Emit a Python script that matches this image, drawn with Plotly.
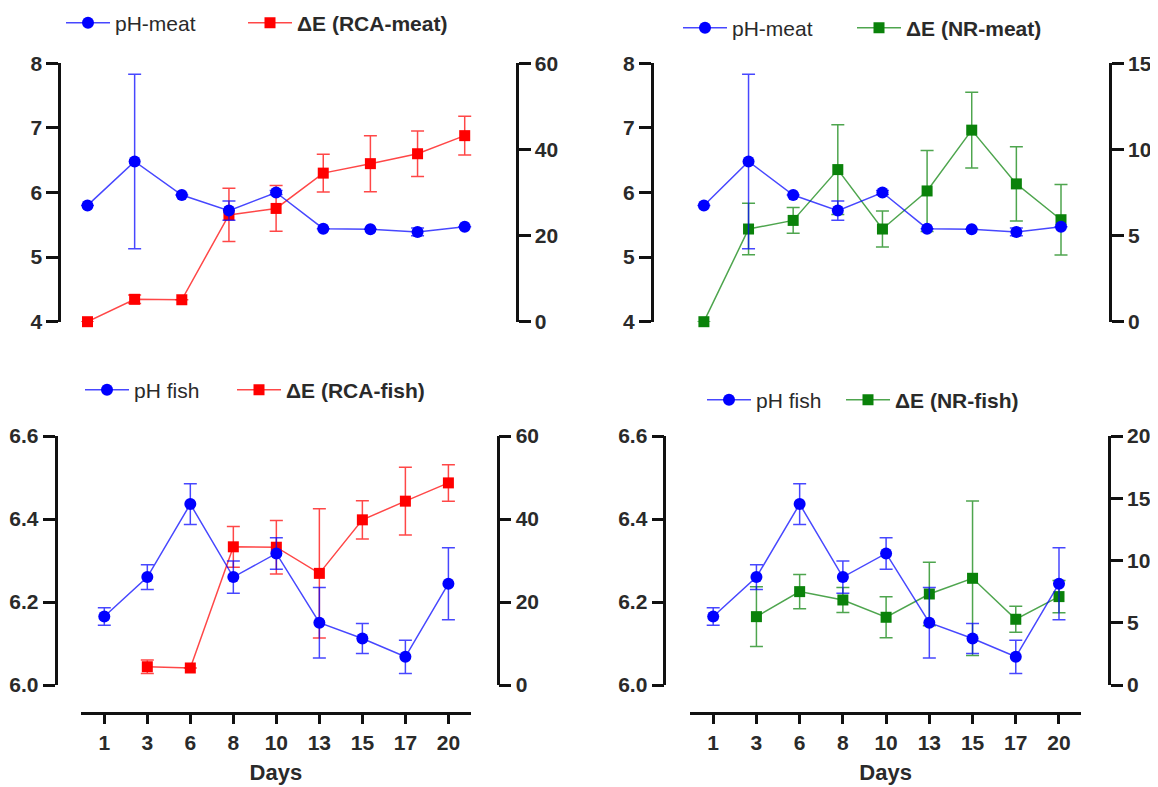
import plotly.graph_objects as go

days = ["1", "3", "6", "8", "10", "13", "15", "17", "20"]

ph_meat = [5.80, 6.48, 5.96, 5.72, 6.00, 5.44, 5.43, 5.39, 5.47]
ph_meat_err = [None, 1.35, None, 0.15, 0.03, None, None, 0.06, None]

de_rca_meat = [0.0, 5.2, 5.1, 24.8, 26.3, 34.5, 36.7, 39.0, 43.2]
de_rca_meat_err = [None, 1.0, None, 6.2, 5.3, 4.4, 6.5, 5.3, 4.5]

de_nr_meat = [0.0, 5.38, 5.88, 8.83, 5.38, 7.59, 11.12, 8.0, 5.92]
de_nr_meat_err = [None, 1.5, 0.75, 2.6, 1.05, 2.35, 2.2, 2.15, 2.05]

ph_fish = [6.165, 6.260, 6.436, 6.260, 6.317, 6.150, 6.112, 6.068, 6.244]
ph_fish_err = [0.021, 0.030, 0.049, 0.039, 0.038, 0.085, 0.036, 0.040, 0.087]

de_rca_fish = [None, 4.4, 4.1, 33.3, 33.2, 26.9, 39.8, 44.3, 48.7]
de_rca_fish_err = [None, 1.6, None, 4.9, 6.45, 15.6, 4.6, 8.15, 4.4]

de_nr_fish = [None, 5.49, 7.50, 6.83, 5.44, 7.31, 8.57, 5.28, 7.10]
de_nr_fish_err = [None, 2.4, 1.38, 1.0, 1.65, 2.55, 6.2, 1.05, 1.3]

W, H = 1158, 787
OFF = 8  # page body margin


def px(x):
    return (x - OFF) / W


def py(y):
    return 1 - (y - OFF) / H


BLUE, BLUE_L = "#0000ff", "rgba(0,0,255,0.72)"
RED, RED_L = "#ff0000", "rgba(255,0,0,0.72)"
GREEN, GREEN_L = "#0a820a", "rgba(10,130,10,0.72)"
FONT = "Liberation Sans, Arial, sans-serif"
TXT = "#2a2a2a"
AX = "#111111"

panels = [
    dict(ph=ph_meat, phe=ph_meat_err, phname="pH-meat", de=de_rca_meat, dee=de_rca_meat_err,
         dename="<b>\u0394E (RCA-meat)</b>", col=RED, coll=RED_L,
         yl=[4, 8], yldt=1, ylfmt="d", yr=[0, 60], yrdt=20,
         day1=87.5, day20=464.7, rng=[-0.5, 8.5], top=63.3, bot=321.7, axl=59.3, axr=516.7,
         showx=False, leg1=(81, 23), leg2=(263, 23)),
    dict(ph=ph_meat, phe=ph_meat_err, phname="pH-meat", de=de_nr_meat, dee=de_nr_meat_err,
         dename="<b>\u0394E (NR-meat)</b>", col=GREEN, coll=GREEN_L,
         yl=[4, 8], yldt=1, ylfmt="d", yr=[0, 15], yrdt=5,
         day1=703.9, day20=1061, rng=[-0.5, 8.5], top=63.3, bot=321.7, axl=651.7, axr=1110,
         showx=False, leg1=(698, 28), leg2=(872, 28)),
    dict(ph=ph_fish, phe=ph_fish_err, phname="pH fish", de=de_rca_fish, dee=de_rca_fish_err,
         dename="<b>\u0394E (RCA-fish)</b>", col=RED, coll=RED_L,
         yl=[6.0, 6.6], yldt=0.2, ylfmt=".1f", yr=[0, 60], yrdt=20,
         day1=104.3, day20=448.4, rng=[-0.54, 8.52], top=436, bot=685, axl=55.5, axr=497.6,
         showx=True, leg1=(100, 390), leg2=(252, 390)),
    dict(ph=ph_fish, phe=ph_fish_err, phname="pH fish", de=de_nr_fish, dee=de_nr_fish_err,
         dename="<b>\u0394E (NR-fish)</b>", col=GREEN, coll=GREEN_L,
         yl=[6.0, 6.6], yldt=0.2, ylfmt=".1f", yr=[0, 20], yrdt=5,
         day1=713.2, day20=1059, rng=[-0.54, 8.52], top=436, bot=685, axl=664.4, axr=1109,
         showx=True, leg1=(722, 400), leg2=(861, 400)),
]

fig = go.Figure()
layout = dict(
    width=W, height=H, margin=dict(l=0, r=0, t=0, b=0, autoexpand=False),
    paper_bgcolor="white", plot_bgcolor="white", showlegend=True,
    font=dict(family=FONT, color=TXT),
)

tickfont = dict(family=FONT, size=21, color=TXT, weight="bold")
XAXIS_Y = 712.5

for k, p in enumerate(panels):
    xid = "x" if k == 0 else f"x{k + 1}"
    xkey = "xaxis" if k == 0 else f"xaxis{k + 1}"
    nR, nL = 2 * k + 1, 2 * k + 2
    yRid = "y" if nR == 1 else f"y{nR}"
    yRkey = "yaxis" if nR == 1 else f"yaxis{nR}"
    yLid, yLkey = f"y{nL}", f"yaxis{nL}"
    legA = "legend" if k == 0 else f"legend{2 * k + 1}"
    legB = f"legend{2 * k + 2}"

    step = (p["day20"] - p["day1"]) / 8.0
    x0 = p["day1"] + p["rng"][0] * step
    x1 = p["day1"] + p["rng"][1] * step
    dom_x = [px(x0), px(x1)]
    dom_y = [py(p["bot"]), py(p["top"])]

    fig.add_trace(go.Scatter(
        x=days, y=p["de"], xaxis=xid, yaxis=yRid, name=p["dename"], legend=legB,
        mode="lines+markers", cliponaxis=False, connectgaps=False,
        line=dict(color=p["coll"], width=1.5),
        marker=dict(symbol="square", size=11, color=p["col"]),
        error_y=dict(type="data", array=p["dee"], visible=True, color=p["coll"], thickness=1.5, width=6.5),
    ))
    fig.add_trace(go.Scatter(
        x=days, y=p["ph"], xaxis=xid, yaxis=yLid, name=p["phname"], legend=legA,
        mode="lines+markers", cliponaxis=False,
        line=dict(color=BLUE_L, width=1.5),
        marker=dict(symbol="circle", size=12, color=BLUE),
        error_y=dict(type="data", array=p["phe"], visible=True, color=BLUE_L, thickness=1.5, width=6.5),
    ))

    xa = dict(domain=dom_x, type="category", categoryarray=days, categoryorder="array",
              range=p["rng"], anchor="free", position=py(XAXIS_Y),
              showgrid=False, zeroline=False)
    if p["showx"]:
        xa.update(showline=True, linecolor=AX, linewidth=2.7, ticks="outside", ticklen=10,
                  tickwidth=2.7, tickcolor=AX, tickfont=tickfont,
                  title=dict(text="<b>Days</b>", font=dict(family=FONT, size=22, color=TXT), standoff=12))
    else:
        xa.update(visible=False)
    layout[xkey] = xa

    common = dict(domain=dom_y, showgrid=False, zeroline=False, anchor="free",
                  showline=True, linecolor=AX, linewidth=2.7, ticks="outside", ticklen=12,
                  tickwidth=2.7, tickcolor=AX, tickfont=tickfont)
    layout[yRkey] = dict(range=p["yr"], dtick=p["yrdt"], tick0=0, side="right",
                         position=px(p["axr"]), **common)
    layout[yLkey] = dict(range=p["yl"], dtick=p["yldt"], tick0=p["yl"][0],
                         tickformat=p["ylfmt"], side="left", overlaying=yRid,
                         position=px(p["axl"]), **common)

    for legid, (cx, cy) in ((legA, p["leg1"]), (legB, p["leg2"])):
        layout[legid] = dict(orientation="h", x=px(cx - 20), y=py(cy), xanchor="left", yanchor="middle",
                             xref="paper", yref="paper", bgcolor="rgba(0,0,0,0)", itemwidth=44,
                             font=dict(family=FONT, size=21, color=TXT))

fig.update_layout(**layout)
fig.write_html("out.html")
